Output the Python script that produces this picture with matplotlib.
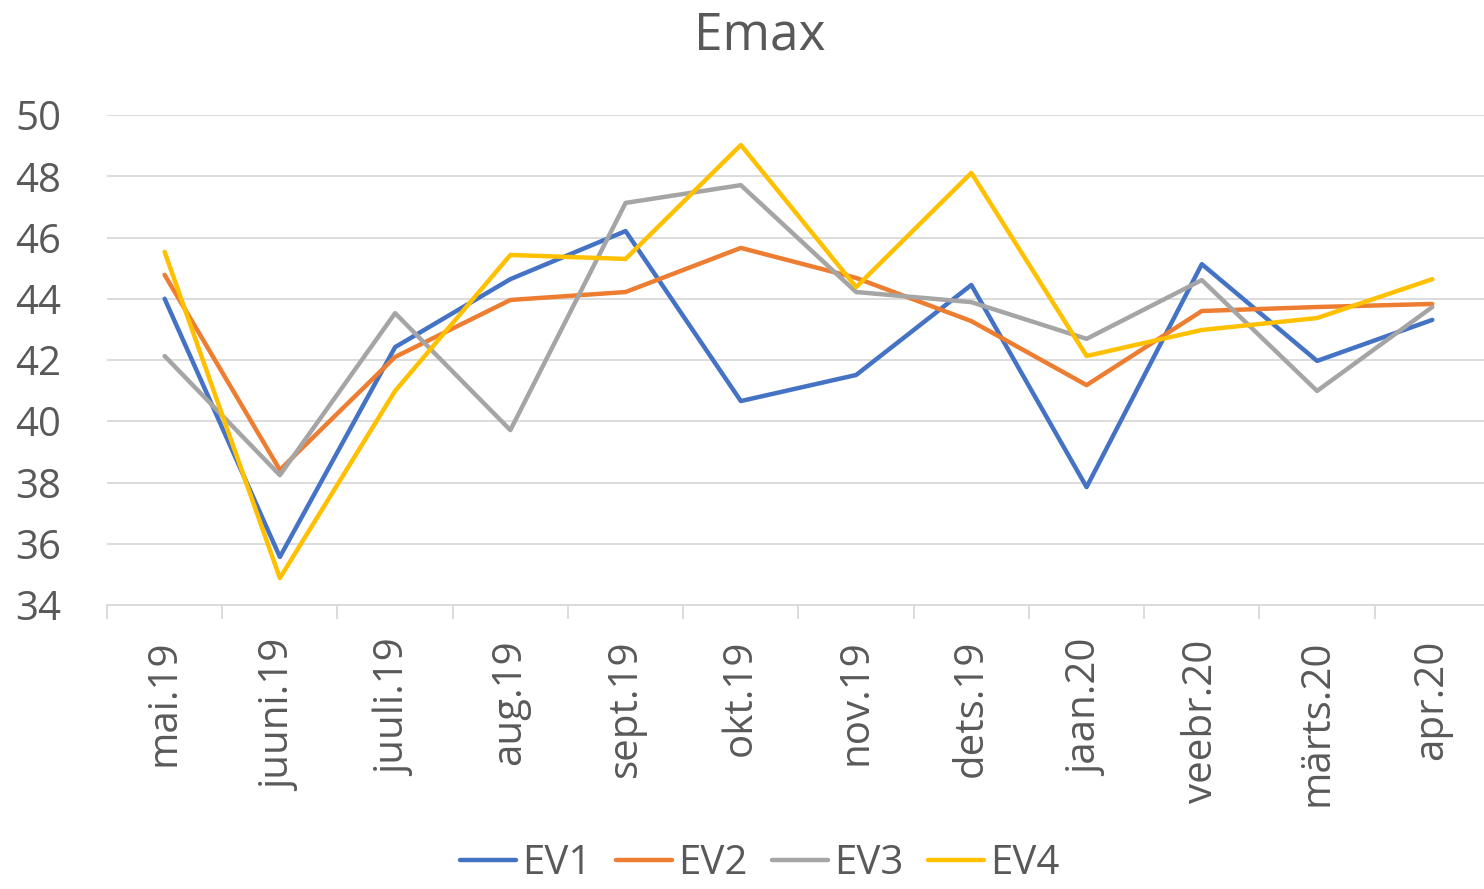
import matplotlib
matplotlib.use('Agg')
from matplotlib import pyplot as plt
from matplotlib.ticker import FixedLocator

months = ['mai.19', 'juuni.19', 'juuli.19', 'aug.19', 'sept.19', 'okt.19',
          'nov.19', 'dets.19', 'jaan.20', 'veebr.20', 'märts.20', 'apr.20']

ev1 = [44.0, 35.57, 42.42, 44.64, 46.21, 40.66, 41.51, 44.45, 37.85, 45.13, 41.97, 43.31]
ev2 = [44.78, 38.41, 42.10, 43.96, 44.22, 45.66, 44.68, 43.27, 41.18, 43.60, 43.73, 43.83]
ev3 = [42.13, 38.24, 43.53, 39.71, 47.13, 47.71, 44.22, 43.89, 42.69, 44.61, 40.99, 43.73]
ev4 = [45.53, 34.88, 40.99, 45.43, 45.30, 49.02, 44.38, 48.11, 42.13, 42.98, 43.37, 44.64]

series = [('EV1', ev1, '#4472C4'), ('EV2', ev2, '#ED7D31'),
          ('EV3', ev3, '#A5A5A5'), ('EV4', ev4, '#FFC000')]

yticks = list(range(34, 51, 2))
text_color = '#595959'
grid_color = '#D9D9D9'

plt.rcParams['font.family'] = ['Open Sans', 'DejaVu Sans']

fig = plt.figure(figsize=(14.84, 8.89), dpi=100)
ax = fig.add_axes([107 / 1484, 1 - 605 / 889, 1 - 107 / 1484 + 0.004, (605 - 115) / 889])

x = list(range(len(months)))
for name, vals, color in series:
    ax.plot(x, vals, color=color, linewidth=3.2, label=name, solid_capstyle='round')

ax.set_xlim(-0.5, len(months) - 0.5)
ax.set_ylim(34, 50)
ax.set_yticks(yticks)
ax.set_yticklabels([str(t) for t in yticks])
ax.yaxis.grid(True, color=grid_color, linewidth=1.3)
ax.set_axisbelow(True)

ax.set_xticks(x)
ax.set_xticklabels(months, rotation=90)
ax.xaxis.set_minor_locator(FixedLocator([i - 0.5 for i in range(len(months) + 1)]))
ax.tick_params(axis='x', which='major', length=0, pad=25, labelsize=29, labelcolor=text_color)
ax.tick_params(axis='x', which='minor', length=10, width=1.3, color=grid_color)
ax.tick_params(axis='y', length=0, pad=66, labelsize=29, labelcolor=text_color)
for lbl in ax.get_yticklabels():
    lbl.set_horizontalalignment('left')

for side in ['top', 'right', 'left']:
    ax.spines[side].set_visible(False)
ax.spines['bottom'].set_color(grid_color)
ax.spines['bottom'].set_linewidth(1.3)

fig.text(0.512, 0.96, 'Emax', ha='center', va='center', fontsize=37, color=text_color)

fig.legend(loc='lower center', ncol=4, bbox_to_anchor=(0.512, -0.035), frameon=False,
           fontsize=29, labelcolor=text_color, handlelength=1.4, handletextpad=0.15,
           columnspacing=0.6)

fig.savefig('out.png', dpi=100)
